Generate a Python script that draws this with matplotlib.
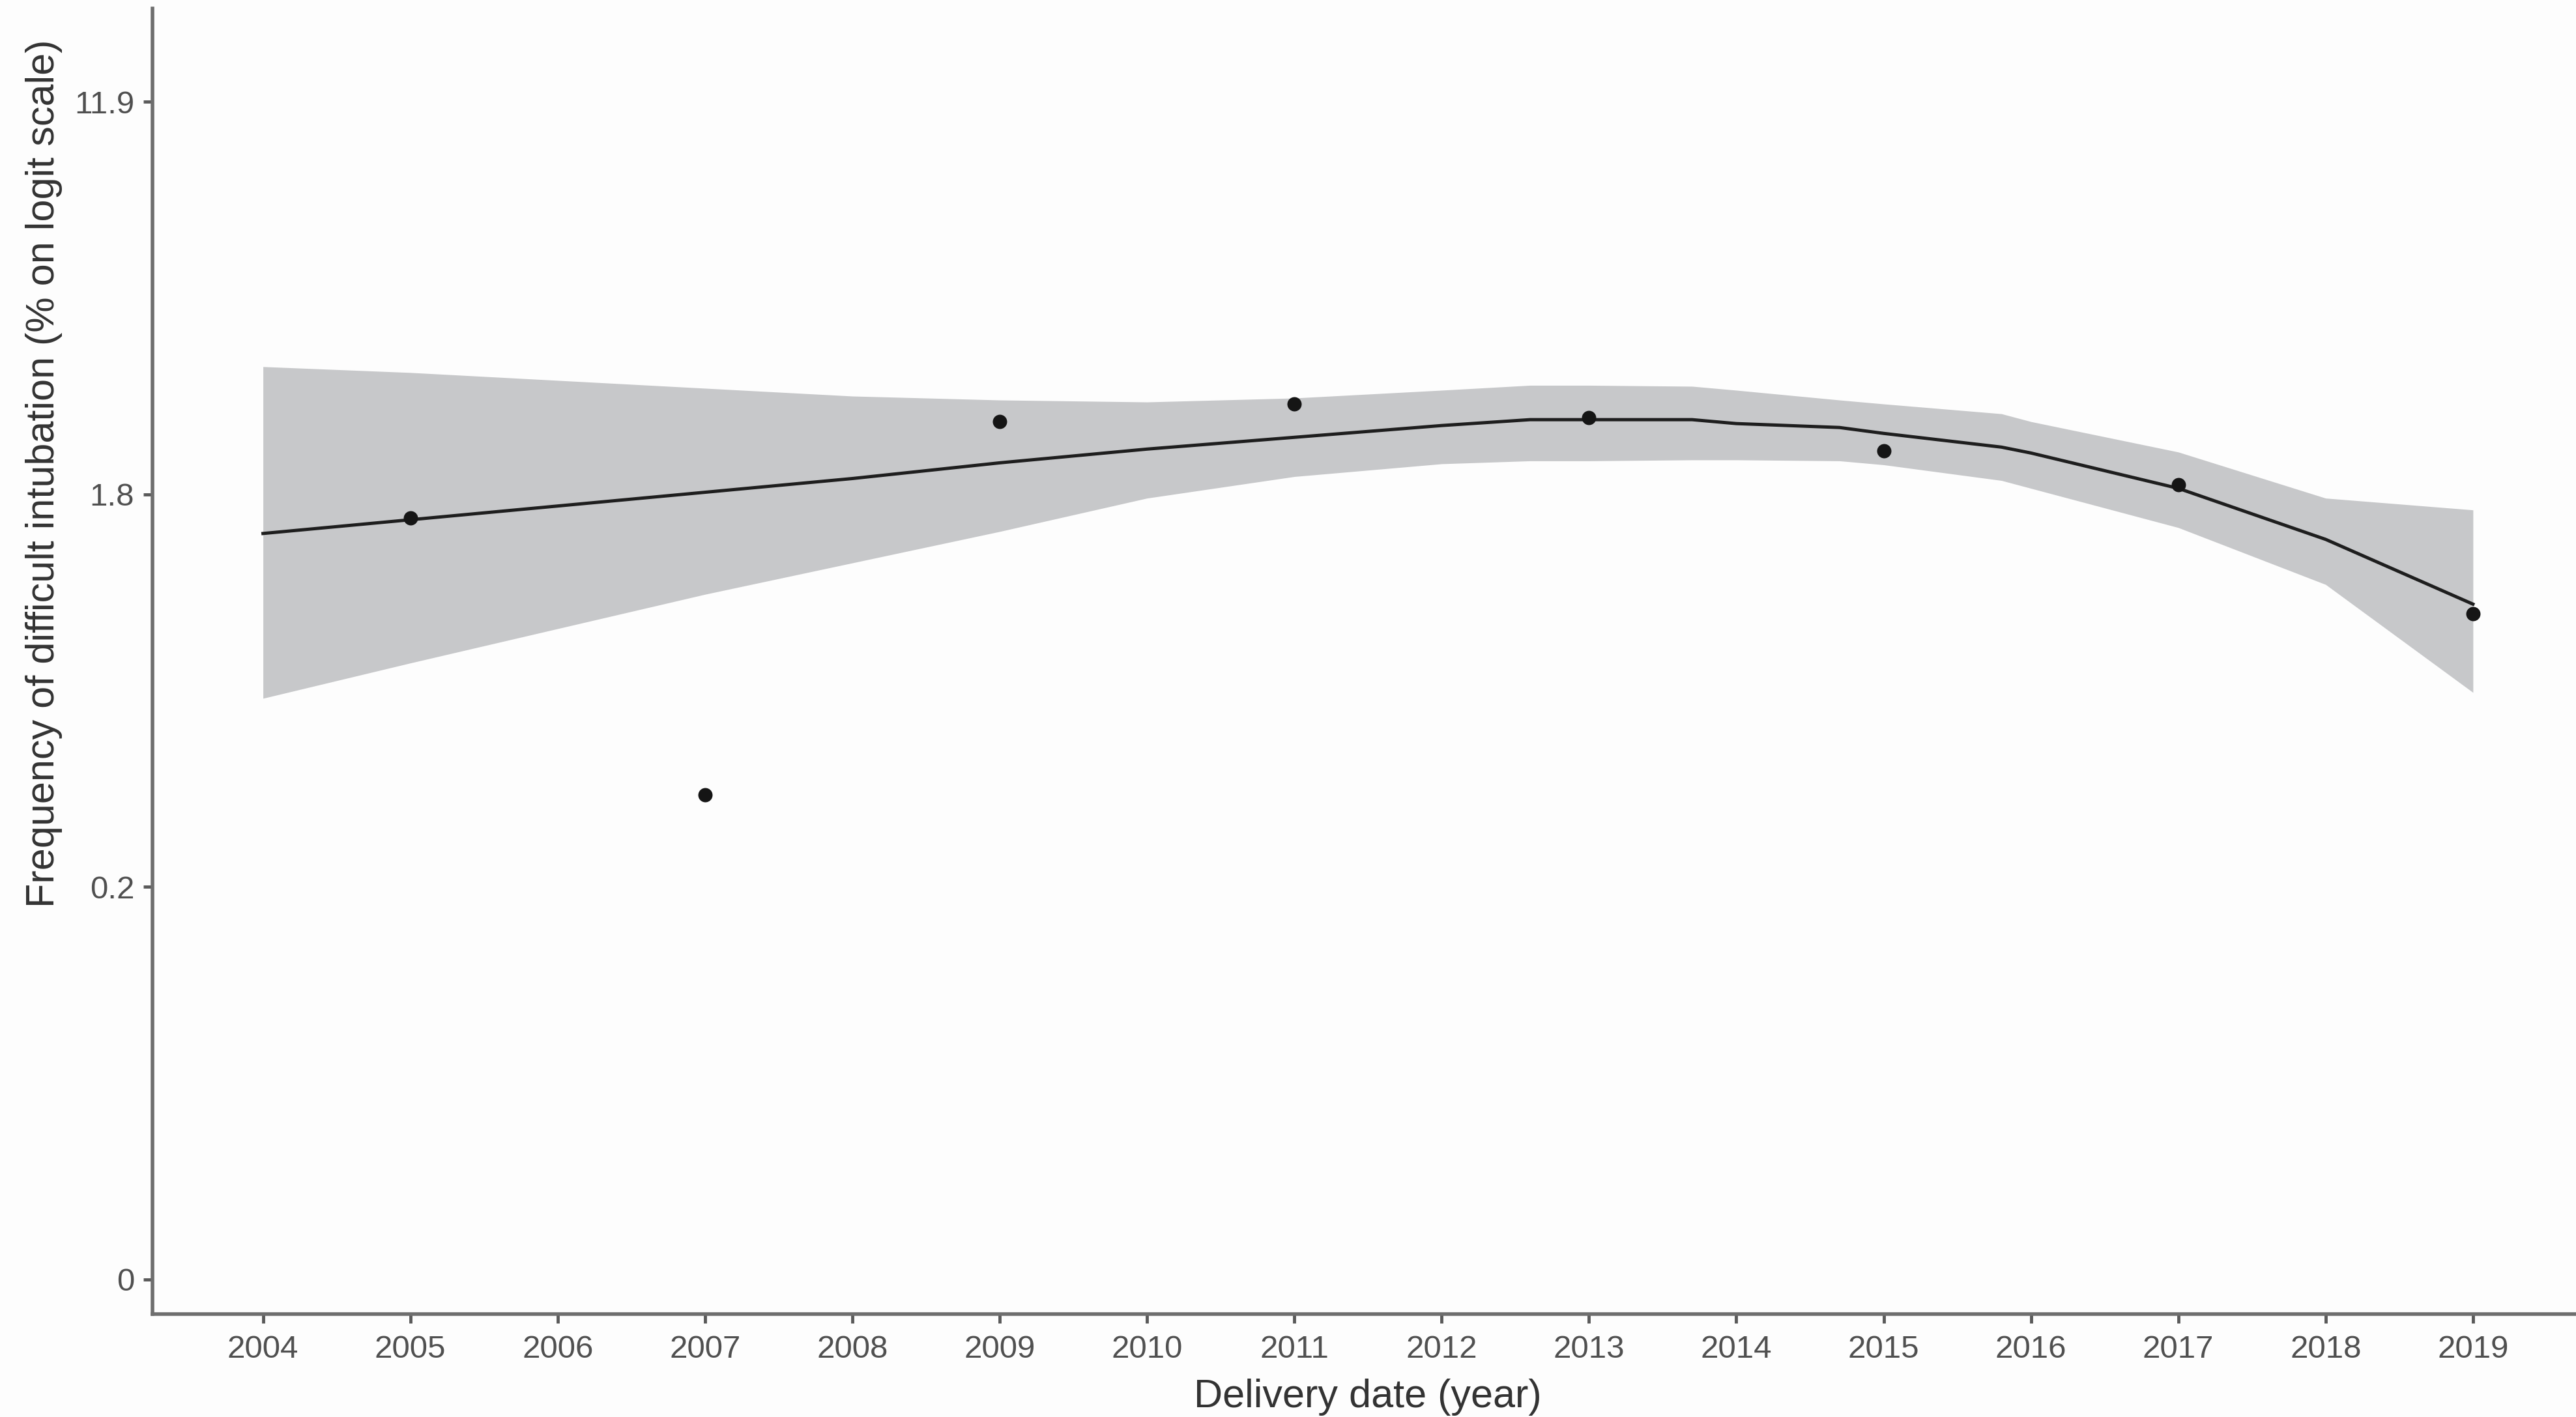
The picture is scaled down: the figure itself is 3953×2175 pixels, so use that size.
import matplotlib
matplotlib.use("Agg")
import matplotlib.pyplot as plt

plt.rcParams['font.family'] = ['Liberation Sans', 'DejaVu Sans']

# observed yearly values (logit of frequency)
years = [2005, 2007, 2009, 2011, 2013, 2015, 2017, 2019]
obs_logit = [-4.12, -5.53, -3.63, -3.54, -3.61, -3.78, -3.95, -4.61]

# smoothed fit and its confidence band (logit scale)
fit_x = [2004, 2005, 2006, 2007, 2008, 2009, 2010, 2011, 2012, 2012.6, 2013,
         2013.7, 2014, 2014.7, 2015, 2015.8, 2016, 2017, 2018, 2019]
fit_y = [-4.20, -4.13, -4.06, -3.99, -3.92, -3.84, -3.77, -3.71, -3.65, -3.62, -3.62,
         -3.62, -3.64, -3.66, -3.69, -3.76, -3.79, -3.97, -4.23, -4.56]
band_hi = [-3.35, -3.38, -3.42, -3.46, -3.50, -3.52, -3.53, -3.51, -3.47, -3.445, -3.445,
           -3.45, -3.47, -3.52, -3.54, -3.59, -3.63, -3.785, -4.02, -4.08]
band_lo = [-5.04, -4.86, -4.685, -4.51, -4.35, -4.19, -4.02, -3.91, -3.845, -3.83, -3.83,
           -3.825, -3.825, -3.83, -3.85, -3.93, -3.97, -4.17, -4.46, -5.01]

# y ticks: logit positions and the % labels shown
ytick_pos = [-8, -6, -4, -2]
ytick_lab = ['0', '0.2', '1.8', '11.9']
xtick_years = list(range(2004, 2020))

fig = plt.figure(figsize=(39.53, 21.75), dpi=100, facecolor='#fdfdfd')
ax = fig.add_axes([0.0592, 0.0727, 0.9437, 0.9213])
ax.set_facecolor('#fdfdfd')

ax.fill_between(fit_x, band_lo, band_hi, color='#c7c8ca', linewidth=0, zorder=1)
ax.plot(fit_x, fit_y, color='#1e1e1e', linewidth=3.6, zorder=2)
ax.scatter(years, obs_logit, s=250, color='#151515', zorder=3, linewidths=0)

ax.set_xlim(2003.25, 2019.75)
ax.set_ylim(-8.177, -1.525)
ax.set_xticks(xtick_years)
ax.set_xticklabels([str(y) for y in xtick_years])
ax.set_yticks(ytick_pos)
ax.set_yticklabels(ytick_lab)

for s in ['top', 'right']:
    ax.spines[s].set_visible(False)
for s in ['left', 'bottom']:
    ax.spines[s].set_color('#6e6e6e')
    ax.spines[s].set_linewidth(4)

ax.tick_params(axis='both', length=10, width=3.5, color='#5a5a5a',
               labelsize=35.5, labelcolor='#505050', pad=10)
ax.tick_params(axis='x', pad=13)

ax.set_xlabel('Delivery date (year)', fontsize=44, color='#333333', labelpad=16)
ax.set_ylabel('Frequency of difficult intubation (% on logit scale)', fontsize=44,
              color='#333333')
# label sits above the axes centre in the original
ax.yaxis.set_label_coords(-0.037, 0.644)

fig.savefig('out.png', dpi=100, facecolor=fig.get_facecolor())
